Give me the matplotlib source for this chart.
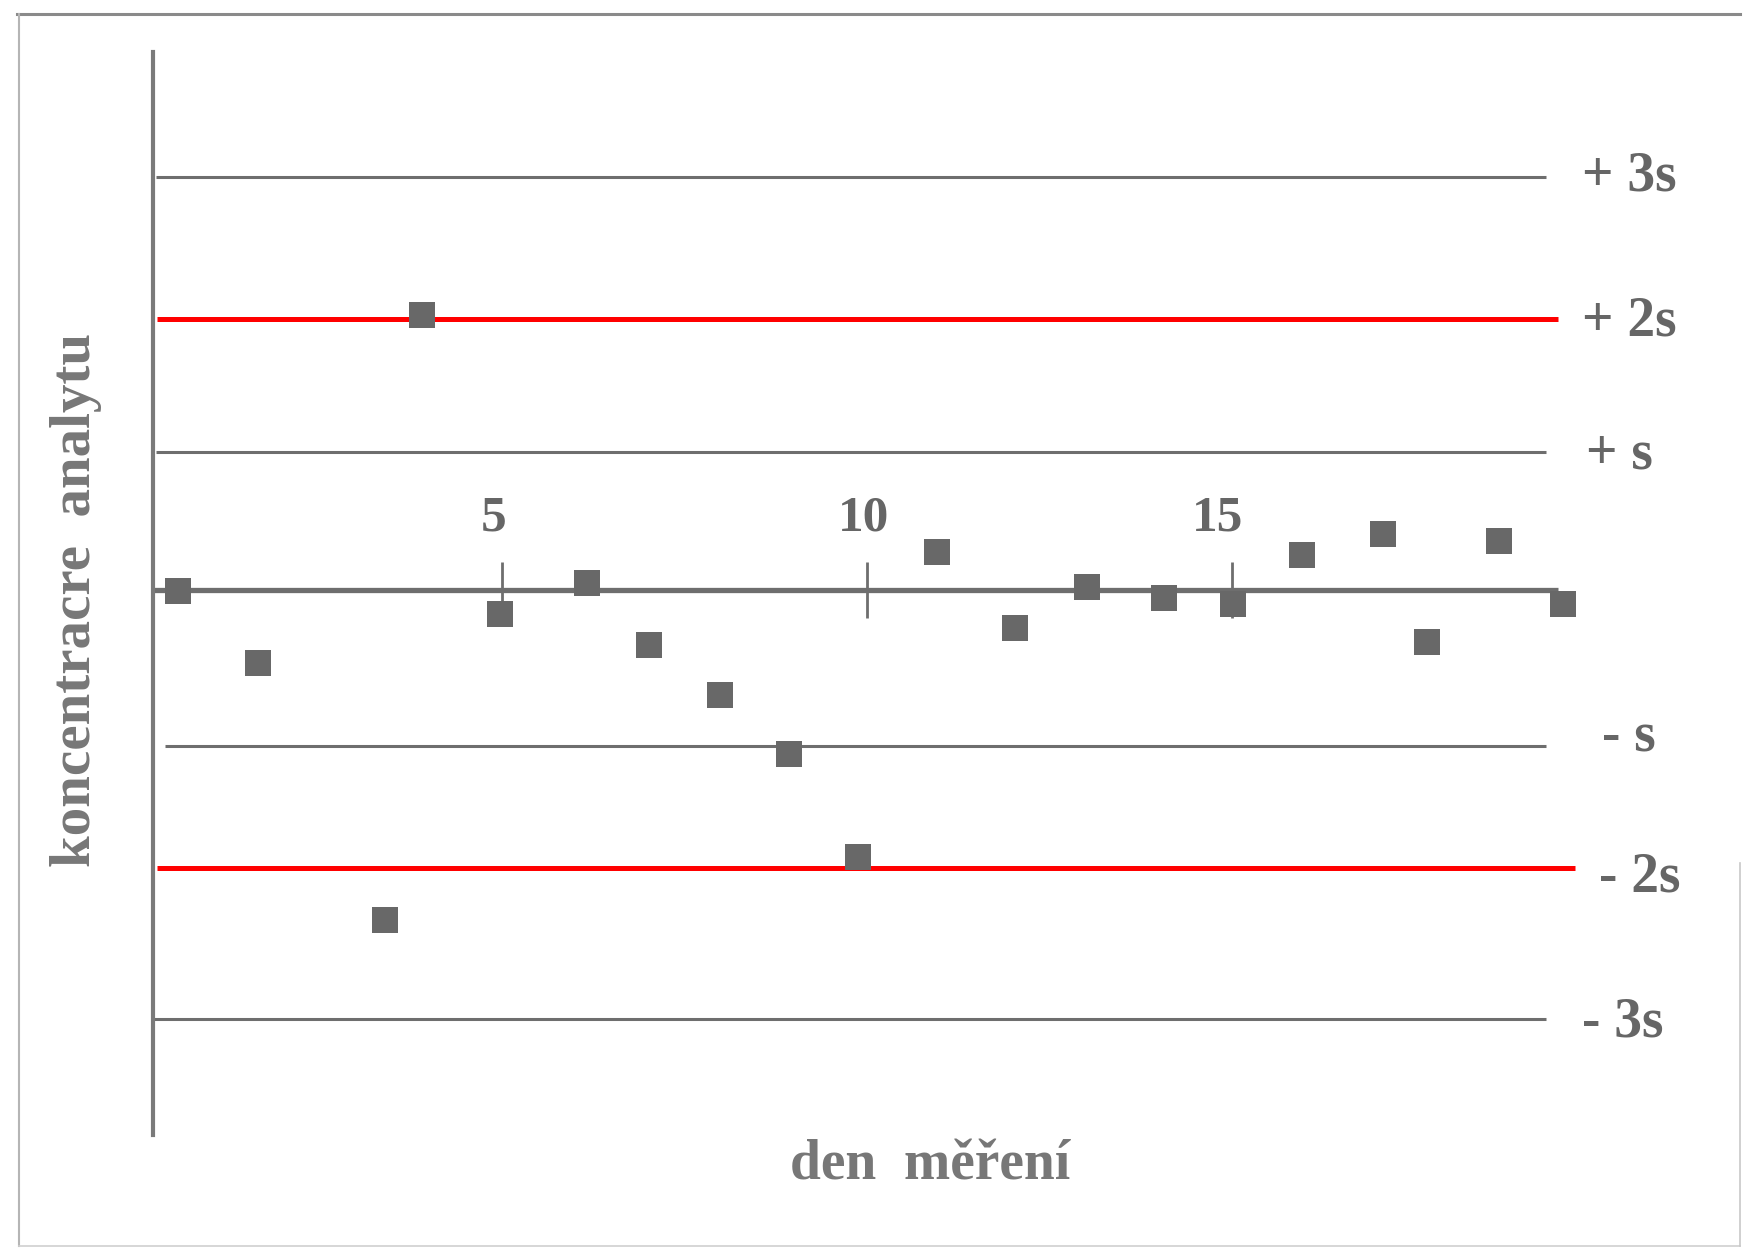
import matplotlib
matplotlib.use("Agg")
import matplotlib.pyplot as plt
from matplotlib.lines import Line2D

# control chart data (x in days, y in multiples of s)
days = [0.56, 1.65, 3.40, 3.90, 4.97, 6.16, 7.01, 7.99, 8.93, 9.88,
        10.96, 12.03, 13.02, 14.07, 15.02, 15.96, 17.07, 17.67, 18.66, 19.54]
values = [-0.01, -0.52, -2.35, 1.96, -0.17, 0.05, -0.39, -0.75, -1.17, -1.90,
          0.27, -0.27, 0.02, -0.06, -0.10, 0.25, 0.40, -0.37, 0.35, -0.10]

limit_levels = [2.94, 1.93, 0.98, -1.11, -1.98, -3.06]
limit_labels = ['+ 3s', '+ 2s', '+ s', '- s', '- 2s', '- 3s']
x_ticks = [5, 10, 15]

gray = '#6e6e6e'
txt = '#666666'
serif = ['Liberation Serif', 'DejaVu Serif']

fig = plt.figure(figsize=(17.45, 12.5), dpi=100)
fig.patch.set_facecolor('white')

# scanned page frame
fig.add_artist(Line2D([0.010, 0.997], [0.989, 0.989], color='#8a8a8a', lw=2.2))
fig.add_artist(Line2D([0.011, 0.011], [0.989, 0.003], color='#b5b5b5', lw=1.5))
fig.add_artist(Line2D([0.011, 0.997], [0.003, 0.003], color='#d0d0d0', lw=1.2))
fig.add_artist(Line2D([0.997, 0.997], [0.31, 0.003], color='#c8c8c8', lw=1.2))

ax = fig.add_axes([0.0874, 0.092, 0.9126, 0.8664])
ax.set_xlim(0.21, 22.03)
ax.set_ylim(-3.883, 3.830)
for side in ['top', 'right', 'bottom']:
    ax.spines[side].set_visible(False)
ax.spines['left'].set_color('#7a7a7a')
ax.spines['left'].set_linewidth(3)
ax.set_xticks([])
ax.set_yticks([])

# limit lines
ends = [19.31, 19.47, 19.31, 19.31, 19.70, 19.31]
starts = [0.26, 0.27, 0.26, 0.38, 0.27, 0.21]
for lev, x0, x1 in zip(limit_levels, starts, ends):
    red = abs(abs(lev) - 2) < 0.2
    ax.hlines(lev, x0, x1, color='#ff0000' if red else gray,
              lw=3.6 if red else 2.2, zorder=2)

# mean line and day ticks
ax.hlines(0, 0.21, 19.47, color=gray, lw=3.8, zorder=2)
label_shift = [-0.12, -0.05, -0.2]
for t, dx in zip(x_ticks, label_shift):
    ax.vlines(t, -0.20, 0.20, color=gray, lw=2, zorder=2)
    ax.text(t + dx, 0.51, str(t), ha='center', va='center', fontsize=37,
            family=serif, fontweight='bold', color=txt)

# limit labels
label_x = [19.80, 19.80, 19.85, 20.07, 20.03, 19.80]
label_dy = [0.0, -0.02, -0.02, 0.06, -0.07, -0.02]
for lev, lab, x, dy in zip(limit_levels, limit_labels, label_x, label_dy):
    ax.text(x, lev + dy, lab, ha='left', va='center', fontsize=40,
            family=serif, fontweight='bold', color=txt)

ax.plot(days, values, 's', color='#686868', markersize=19, markeredgewidth=0,
        zorder=3, clip_on=False)

fig.text(0.533, 0.068, 'den  měření', ha='center', va='center', fontsize=40,
         family=serif, fontweight='bold', color='#777777')
fig.text(0.0434, 0.52, 'koncentracre  analytu', ha='center', va='center',
         rotation=90, fontsize=41, family=serif, fontweight='bold', color='#777777')

fig.savefig('out.png', dpi=100, facecolor='white')
